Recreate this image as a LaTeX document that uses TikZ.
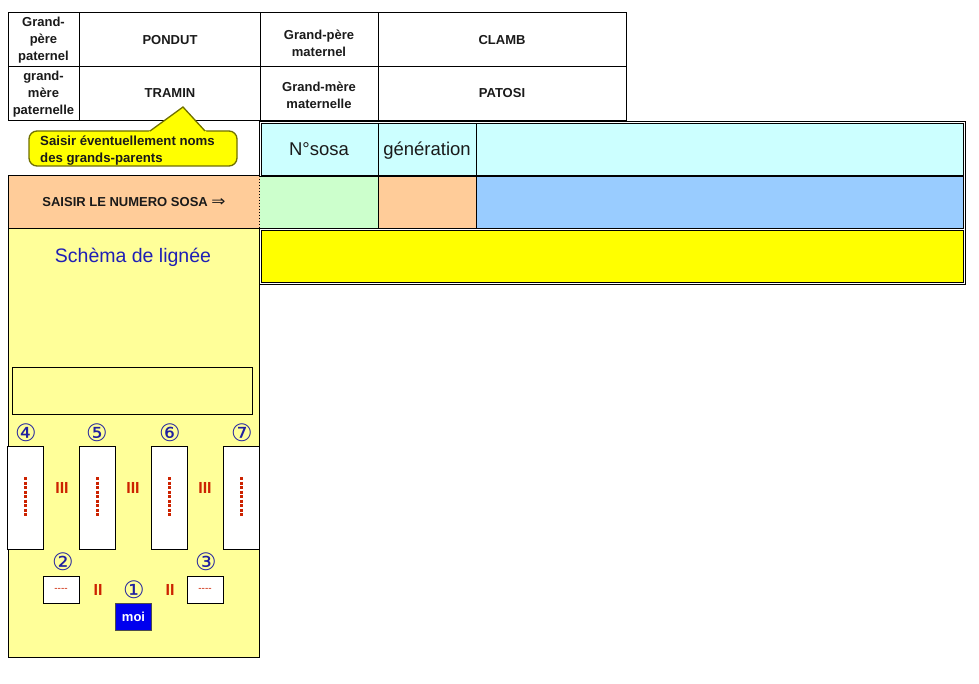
\documentclass[tikz,border=0pt]{standalone}
\usepackage{fontspec}
\setmainfont{Liberation Sans}
\newfontfamily\djv{DejaVu Sans}
\definecolor{paleyellow}{HTML}{FFFF99}
\definecolor{cellorange}{HTML}{FFCC99}
\definecolor{cellcyan}{HTML}{CCFFFF}
\definecolor{cellgreen}{HTML}{CCFFCC}
\definecolor{cellblue}{HTML}{99CCFF}
\definecolor{cellyellow}{HTML}{FFFF00}
\definecolor{numblue}{HTML}{2020A0}
\definecolor{titleblue}{HTML}{1F1FB5}
\definecolor{romanred}{HTML}{CC2200}
\definecolor{moiblue}{HTML}{0000EE}
\definecolor{balloonedge}{HTML}{707000}
\definecolor{txtdark}{HTML}{1A1A1A}
\begin{document}
\begin{tikzpicture}[x=1pt,y=-1pt,
  cellline/.style={draw=black, line width=1pt},
  lbl/.style={font=\fontsize{13}{17}\selectfont\bfseries, align=center, text=txtdark, inner sep=0pt},
  bigtxt/.style={font=\fontsize{18.5}{22}\selectfont, text=txtdark, inner sep=0pt, anchor=base},
  circnum/.style={font=\djv\fontsize{24}{26}\selectfont, text=numblue, inner sep=0pt},
  roman/.style={font=\fontsize{16}{16}\selectfont\bfseries, text=romanred, inner sep=0pt},
  tallbox/.style={draw=black, line width=1pt, fill=white, minimum width=36pt, minimum height=103pt, inner sep=0pt},
  smallbox/.style={draw=black, line width=1pt, fill=white, minimum width=36pt, minimum height=27pt, inner sep=0pt},
  dashline/.style={draw=romanred, line width=2.1pt, dash pattern=on 3pt off 1.5pt},
  smalldash/.style={font=\fontsize{10}{10}\selectfont, text=romanred, inner sep=0pt}
]
\useasboundingbox (0,0) rectangle (979,684);
\fill[white] (0,0) rectangle (979,684);

% ---------- top table ----------
\draw[cellline] (8,13) rectangle (626,121);
\draw[cellline] (8,67) -- (626,67);
\foreach \xx in {79,260,378} \draw[cellline] (\xx,13) -- (\xx,121);

\node[lbl] (gpp) at (43.5,40.5) {Grand-\\père\\paternel};
\node[lbl] (pondut) at (170,40) {PONDUT};
\node[lbl] (gpm) at (319,43) {Grand-père\\maternel};
\node[lbl] (clamb) at (502,40) {CLAMB};
\node[lbl] (gmp) at (43.5,94.5) {grand-\\mère\\paternelle};
\node[lbl] (tramin) at (170,93) {TRAMIN};
\node[lbl] (gmm) at (319,95) {Grand-mère\\maternelle};
\node[lbl] (patosi) at (502,93) {PATOSI};

% ---------- right table (double borders) ----------
\draw[black, line width=0.9pt] (259.5,121) rectangle (965,284.5);
\fill[cellcyan] (261.5,123) rectangle (963,175);
\draw[black, line width=0.9pt] (261.5,123) rectangle (963,175);
\draw[black, line width=0.9pt] (378,123) -- (378,175);
\draw[black, line width=0.9pt] (476,123) -- (476,175);

\fill[white] (259,176) rectangle (262,229);
\fill[cellgreen] (259.5,177) rectangle (378,229);
\fill[cellorange] (378,177) rectangle (476,229);
\fill[cellblue] (476,177) rectangle (963,228.5);
\draw[black, line width=0.9pt] (259.5,176.8) -- (963,176.8) -- (963,228.5) -- (259.5,228.5);
\draw[black, line width=0.9pt] (378,176.8) -- (378,228.5);
\draw[black, line width=0.9pt] (476,176.8) -- (476,228.5);

\fill[cellyellow] (261.5,230.5) rectangle (963,282.5);
\draw[black, line width=0.9pt] (261.5,230.5) rectangle (963,282.5);

\node[bigtxt] (nsosa) at (319,155.5) {N°sosa};
\node[bigtxt] (gen) at (427,155.5) {génération};

% ---------- left column ----------
\fill[cellorange] (8,176) rectangle (259.5,229);
\draw[cellline] (259.5,176) -- (8,176) -- (8,229) -- (259.5,229);
\draw[black, line width=0.8pt, dash pattern=on 1.5pt off 1.5pt] (259.5,176) -- (259.5,229);
\node[lbl, anchor=base] (saisir) at (134,207) {SAISIR LE NUMERO SOSA {\djv\mdseries\scalebox{1.3}[1.15]{⇒}}};

\fill[paleyellow] (8,229) rectangle (259.5,657);
\draw[cellline] (8,229) rectangle (259.5,657);
\node[font=\fontsize{19.5}{22}\selectfont, text=titleblue, inner sep=0pt, anchor=base] (schema) at (133,262.5) {Schèma de lignée};

\draw[cellline] (12,367) rectangle (252,414);

% balloon
\filldraw[fill=cellyellow, draw=balloonedge, line width=1.3pt, rounded corners=8pt] (29,131) rectangle (237,166);
\fill[cellyellow] (148,132.5) -- (183,107) -- (207,132.5) -- cycle;
\draw[balloonedge, line width=1.3pt] (150,131) -- (183,107) -- (205,131);
\node[font=\fontsize{13.2}{17}\selectfont\bfseries, text=txtdark, align=left, anchor=west, inner sep=0pt] (balloon) at (40,150.5) {Saisir éventuellement noms\\des grands-parents};

% generation 3: tall boxes
\node[tallbox] (b4) at (25.5,498) {};
\node[tallbox] (b5) at (97.5,498) {};
\node[tallbox] (b6) at (169.5,498) {};
\node[tallbox] (b7) at (241.5,498) {};
\draw[dashline] ([yshift=21pt]b4.center) -- ([yshift=-18pt]b4.center);
\draw[dashline] ([yshift=21pt]b5.center) -- ([yshift=-18pt]b5.center);
\draw[dashline] ([yshift=21pt]b6.center) -- ([yshift=-18pt]b6.center);
\draw[dashline] ([yshift=21pt]b7.center) -- ([yshift=-18pt]b7.center);

\node[circnum] (n4) at (26,433) {④};
\node[circnum] (n5) at (97,433) {⑤};
\node[circnum] (n6) at (170,433) {⑥};
\node[circnum] (n7) at (242,433) {⑦};

\node[roman] (r45) at (62,488) {III};
\node[roman] (r56) at (133,488) {III};
\node[roman] (r67) at (205,488) {III};

% generation 2
\node[smallbox] (b2) at (61,589.5) {};
\node[smallbox] (b3) at (205,589.5) {};
\node[smalldash] (d2) at (b2.center) {-{}-{}-{}-};
\node[smalldash] (d3) at (b3.center) {-{}-{}-{}-};
\node[circnum] (n2) at (63,562) {②};
\node[circnum] (n3) at (206,562) {③};
\node[roman] (r2) at (98,590) {II};
\node[roman] (r3) at (170,590) {II};

% generation 1
\node[circnum] (n1) at (134,590) {①};
\node[draw=black!70, line width=1pt, fill=moiblue, minimum width=36pt, minimum height=27pt, inner sep=0pt,
      font=\fontsize{13}{13}\selectfont\bfseries, text=white] (moi) at (133.5,617) {moi};
\end{tikzpicture}
\end{document}
